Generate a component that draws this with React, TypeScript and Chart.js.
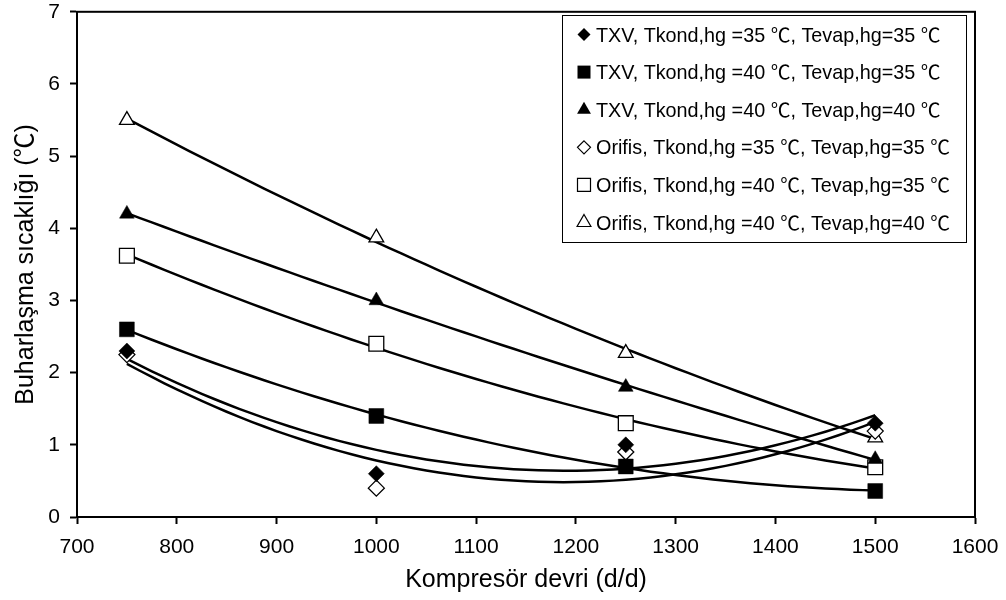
import React, { useEffect, useRef } from 'react';
import { Chart, registerables } from 'chart.js';

Chart.register(...registerables);

const FONT = '"Liberation Sans", Arial, "DejaVu Sans", sans-serif';
const DEGC_FONT = '"Noto Sans CJK SC", "DejaVu Sans", sans-serif';

// Compressor speed (rpm) at which each run was measured
const speeds = [750, 1000, 1250, 1500];

// Evaporator superheat (°C) for each configuration
const txv35_35 = [2.3, 0.6, 1.0, 1.3];
const txv40_35 = [2.6, 1.4, 0.7, 0.36];
const txv40_40 = [4.2, 3.0, 1.8, 0.8];
const orf35_35 = [2.25, 0.4, 0.9, 1.19];
const orf40_35 = [3.62, 2.4, 1.3, 0.69];
const orf40_40 = [5.5, 3.87, 2.27, 1.1];

const seriesLabels = [
  'TXV, Tkond,hg =35 ℃, Tevap,hg=35 ℃',
  'TXV, Tkond,hg =40 ℃, Tevap,hg=35 ℃',
  'TXV, Tkond,hg =40 ℃, Tevap,hg=40 ℃',
  'Orifis, Tkond,hg =35 ℃, Tevap,hg=35 ℃',
  'Orifis, Tkond,hg =40 ℃, Tevap,hg=35 ℃',
  'Orifis, Tkond,hg =40 ℃, Tevap,hg=40 ℃',
];

const xAxisTitle = 'Kompresör devri (d/d)';
const yAxisTitle = 'Buharlaşma sıcaklığı (℃)';

type Shape = 'diamond' | 'square' | 'triangle';

const series: { label: string; values: number[]; shape: Shape; filled: boolean }[] = [
  { label: seriesLabels[0], values: txv35_35, shape: 'diamond', filled: true },
  { label: seriesLabels[1], values: txv40_35, shape: 'square', filled: true },
  { label: seriesLabels[2], values: txv40_40, shape: 'triangle', filled: true },
  { label: seriesLabels[3], values: orf35_35, shape: 'diamond', filled: false },
  { label: seriesLabels[4], values: orf40_35, shape: 'square', filled: false },
  { label: seriesLabels[5], values: orf40_40, shape: 'triangle', filled: false },
];

// Second-order least-squares trend line through the measured points
function quadFit(xs: number[], ys: number[], xm: number): [number, number, number] {
  const n = xs.length;
  const t = xs.map((v) => (v - xm) / 100);
  let s1 = 0, s2 = 0, s3 = 0, s4 = 0, y0 = 0, y1 = 0, y2 = 0;
  for (let i = 0; i < n; i++) {
    const ti = t[i];
    s1 += ti; s2 += ti * ti; s3 += ti ** 3; s4 += ti ** 4;
    y0 += ys[i]; y1 += ti * ys[i]; y2 += ti * ti * ys[i];
  }
  const M = [
    [n, s1, s2, y0],
    [s1, s2, s3, y1],
    [s2, s3, s4, y2],
  ];
  for (let c = 0; c < 3; c++) {
    for (let r = c + 1; r < 3; r++) {
      const f = M[r][c] / M[c][c];
      for (let k = c; k < 4; k++) M[r][k] -= f * M[c][k];
    }
  }
  const sol = [0, 0, 0];
  for (let r = 2; r >= 0; r--) {
    let v = M[r][3];
    for (let k = r + 1; k < 3; k++) v -= M[r][k] * sol[k];
    sol[r] = v / M[r][r];
  }
  return [sol[0], sol[1], sol[2]];
}

function trendPoints(xs: number[], ys: number[]) {
  const n = xs.length;
  const xm = xs.reduce((s, v) => s + v, 0) / n;
  const [a, b, c] = quadFit(xs, ys, xm);
  const pts: { x: number; y: number }[] = [];
  const x0 = xs[0];
  const x1 = xs[n - 1];
  const steps = 60;
  for (let i = 0; i <= steps; i++) {
    const x = x0 + ((x1 - x0) * i) / steps;
    const t = (x - xm) / 100;
    pts.push({ x, y: a + b * t + c * t * t });
  }
  return pts;
}

const pointStyleFor = (s: Shape) => (s === 'diamond' ? 'rectRot' : s === 'square' ? 'rect' : 'triangle');
const radiusFor = (s: Shape) => (s === 'diamond' ? 8 : s === 'square' ? 10.5 : 8.5);

// Text on an alphabetic baseline, with the ℃ sign set in a full-width face
function drawMixedText(ctx: CanvasRenderingContext2D, text: string, x: number, yMid: number, size: number) {
  const baseline = yMid + size * 0.358;
  ctx.textBaseline = 'alphabetic';
  const parts = text.split('℃');
  let cx = x;
  parts.forEach((part, i) => {
    ctx.font = `${size}px ${FONT}`;
    ctx.fillText(part, cx, baseline);
    cx += ctx.measureText(part).width;
    if (i < parts.length - 1) {
      ctx.font = `${size}px ${DEGC_FONT}`;
      ctx.fillText('℃', cx, baseline);
      cx += ctx.measureText('℃').width;
    }
  });
  return cx - x;
}

function measureMixedText(ctx: CanvasRenderingContext2D, text: string, size: number) {
  const parts = text.split('℃');
  let w = 0;
  parts.forEach((part, i) => {
    ctx.font = `${size}px ${FONT}`;
    w += ctx.measureText(part).width;
    if (i < parts.length - 1) {
      ctx.font = `${size}px ${DEGC_FONT}`;
      w += ctx.measureText('℃').width;
    }
  });
  return w;
}

function drawLegendMarker(ctx: CanvasRenderingContext2D, shape: Shape, filled: boolean, x: number, y: number) {
  ctx.beginPath();
  if (shape === 'diamond') {
    const r = 6.5;
    ctx.moveTo(x, y - r);
    ctx.lineTo(x + r, y);
    ctx.lineTo(x, y + r);
    ctx.lineTo(x - r, y);
    ctx.closePath();
  } else if (shape === 'square') {
    const h = 6.5;
    ctx.rect(x - h, y - h, 2 * h, 2 * h);
  } else {
    const r = 8;
    ctx.moveTo(x, y - r);
    ctx.lineTo(x + r * 0.866, y + r / 2);
    ctx.lineTo(x - r * 0.866, y + r / 2);
    ctx.closePath();
  }
  if (filled) {
    ctx.fillStyle = '#000';
    ctx.fill();
  } else {
    ctx.fillStyle = '#fff';
    ctx.fill();
    ctx.lineWidth = 1.2;
    ctx.strokeStyle = '#000';
    ctx.stroke();
  }
}

const frameAndLegend = {
  id: 'frameAndLegend',
  afterDraw(chart: any) {
    const { ctx, chartArea } = chart;
    ctx.save();
    // plot frame
    ctx.lineWidth = 2;
    ctx.strokeStyle = '#000';
    ctx.strokeRect(chartArea.left, chartArea.top, chartArea.right - chartArea.left, chartArea.bottom - chartArea.top);

    // y-axis title
    const titleSize = 25;
    const tw = measureMixedText(ctx, yAxisTitle, titleSize);
    ctx.save();
    ctx.translate(24, (chartArea.top + chartArea.bottom) / 2);
    ctx.rotate(-Math.PI / 2);
    ctx.fillStyle = '#000';
    ctx.textAlign = 'left';
    drawMixedText(ctx, yAxisTitle, -tw / 2, 0, titleSize);
    ctx.restore();

    // legend box
    const bx = 562.5;
    const by = 15.5;
    const bw = 404;
    const bh = 227;
    ctx.fillStyle = '#fff';
    ctx.fillRect(bx, by, bw, bh);
    ctx.lineWidth = 1;
    ctx.strokeStyle = '#000';
    ctx.strokeRect(bx, by, bw, bh);

    const rowTop = 34.5;
    const rowGap = 37.6;
    ctx.textAlign = 'left';
    series.forEach((s, i) => {
      const y = rowTop + i * rowGap;
      drawLegendMarker(ctx, s.shape, s.filled, 584, y);
      ctx.fillStyle = '#000';
      drawMixedText(ctx, s.label, 596, y, 19.8);
    });
    ctx.restore();
  },
};

export default function App() {
  const canvasRef = useRef<HTMLCanvasElement | null>(null);

  useEffect(() => {
    const canvas = canvasRef.current;
    if (!canvas) return;

    const trendSets = series.map((s) => ({
      type: 'scatter' as const,
      label: s.label + ' trend',
      data: trendPoints(speeds, s.values),
      showLine: true,
      borderColor: '#000',
      borderWidth: 2.5,
      pointRadius: 0,
      fill: false,
      order: 2,
    }));

    const markerSets = series.map((s) => ({
      type: 'scatter' as const,
      label: s.label,
      data: speeds.map((x, i) => ({ x, y: s.values[i] })),
      showLine: false,
      pointStyle: pointStyleFor(s.shape),
      pointRadius: radiusFor(s.shape),
      pointBackgroundColor: s.filled ? '#000' : '#fff',
      pointBorderColor: '#000',
      pointBorderWidth: s.filled ? 0.5 : 1.3,
      order: 1,
    }));

    const chart = new Chart(canvas, {
      type: 'scatter',
      data: { datasets: [...trendSets, ...markerSets] as any },
      plugins: [frameAndLegend],
      options: {
        animation: false,
        responsive: true,
        maintainAspectRatio: false,
        layout: { padding: { left: 0, right: 31, top: 11.5, bottom: 0 } },
        plugins: {
          legend: { display: false },
          tooltip: { enabled: false },
        },
        scales: {
          x: {
            type: 'linear',
            min: 700,
            max: 1600,
            ticks: {
              stepSize: 100,
              color: '#000',
              font: { family: FONT, size: 21 },
              padding: 11,
              maxRotation: 0,
              autoSkip: false,
              callback: (v: any) => String(v),
            },
            grid: { drawOnChartArea: false, drawTicks: true, tickLength: 7, tickWidth: 2, tickColor: '#000' },
            border: { display: true, color: '#000', width: 2 },
            title: {
              display: true,
              text: xAxisTitle,
              color: '#000',
              font: { family: FONT, size: 25 },
              padding: { top: 0, bottom: 5 },
            },
            afterFit: (scale: any) => {
              scale.height = 83;
              scale.paddingLeft = 0;
              scale.paddingRight = 0;
            },
          },
          y: {
            type: 'linear',
            min: 0,
            max: 7,
            ticks: {
              stepSize: 1,
              color: '#000',
              font: { family: FONT, size: 21 },
              padding: 10,
              callback: (v: any) => String(v),
            },
            grid: { drawOnChartArea: false, drawTicks: true, tickLength: 7, tickWidth: 2, tickColor: '#000' },
            border: { display: true, color: '#000', width: 2 },
            title: { display: false },
            afterFit: (scale: any) => {
              scale.width = 77;
              scale.paddingTop = 0;
              scale.paddingBottom = 0;
            },
          },
        },
      },
    });

    return () => chart.destroy();
  }, []);

  return (
    <div style={{ position: 'fixed', left: 0, top: 0, width: 1006, height: 600, background: '#fff' }}>
      <canvas ref={canvasRef} />
    </div>
  );
}
